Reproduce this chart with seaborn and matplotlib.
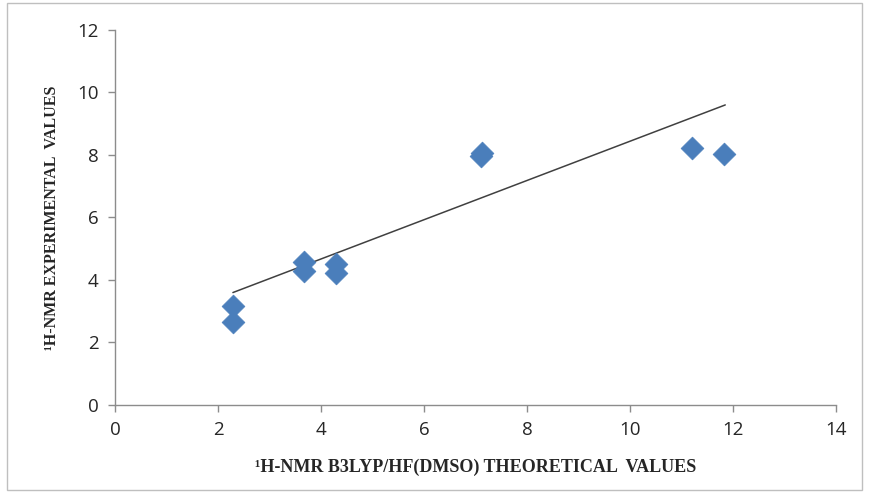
import numpy as np
import pandas as pd
import matplotlib
matplotlib.use("Agg")
import matplotlib.pyplot as plt
import seaborn as sns
from matplotlib.patches import Rectangle

# ------------------------------------------
# Data
# ------------------------------------------
theoretical = [2.29, 2.29, 3.68, 3.68, 4.29, 4.29, 7.10, 7.12, 11.20, 11.83]
experimental = [3.16, 2.64, 4.58, 4.29, 4.51, 4.21, 7.97, 8.05, 8.21, 8.03]

# trend line endpoints as drawn in the chart
trend_x = [2.29, 11.85]
trend_y = [3.59, 9.60]

x_ticks = [0, 2, 4, 6, 8, 10, 12, 14]
y_ticks = [0, 2, 4, 6, 8, 10, 12]

df = pd.DataFrame({"theo": theoretical, "exp": experimental})
trend = pd.DataFrame({"x": trend_x, "y": trend_y})

sns.set_style("white")
plt.rcParams["font.family"] = ["Open Sans", "DejaVu Sans"]

fig = plt.figure(figsize=(8.69, 4.92), dpi=100)
ax = fig.add_axes([0.1323, 0.1776, 0.8297, 0.7614])

sns.lineplot(data=trend, x="x", y="y", ax=ax, color="#404040", linewidth=1.1)
sns.scatterplot(data=df, x="theo", y="exp", ax=ax, marker="D", s=135,
                color="#4A7EBB", edgecolor="#4A7EBB", linewidth=0.5, zorder=3)

ax.set_xlim(0, 14)
ax.set_ylim(0, 12)
ax.set_xticks(x_ticks)
ax.set_yticks(y_ticks)

grey = "#8C8C8C"
for side in ["top", "right"]:
    ax.spines[side].set_visible(False)
for side in ["left", "bottom"]:
    ax.spines[side].set_color(grey)
    ax.spines[side].set_linewidth(1.0)
ax.tick_params(axis="both", direction="out", length=5, width=1, color=grey,
               labelsize=13.5, labelcolor="#262626", pad=7, bottom=True, left=True)

label_font = dict(family=["Liberation Serif", "DejaVu Serif"], weight="bold",
                  color="#262626")
ax.set_xlabel("¹H-NMR B3LYP/HF(DMSO) THEORETICAL  VALUES", labelpad=14,
              size=13, **label_font)
ax.set_ylabel("¹H-NMR EXPERIMENTAL  VALUES", labelpad=12, size=11.5, **label_font)

# outer chart border
fig.patches.append(Rectangle((0.008, 0.004), 0.984, 0.99, transform=fig.transFigure,
                             fill=False, edgecolor="#BFBFBF", linewidth=1.0))

fig.savefig("out.png", dpi=100)
